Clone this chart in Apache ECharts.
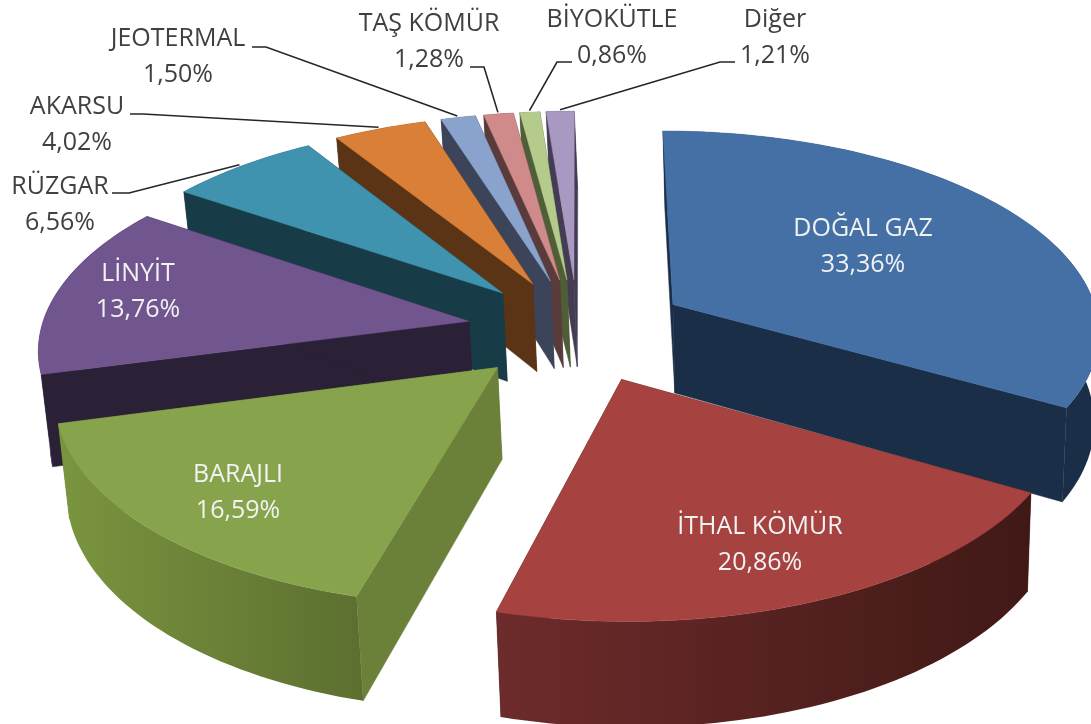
<!DOCTYPE html>
<html><head><meta charset="utf-8">
<style>html,body{margin:0;padding:0;background:#fff}#c{width:1091px;height:724px}</style>
<script src="https://cdn.jsdelivr.net/npm/echarts@6/dist/echarts.min.js"></script>
</head><body><div id="c"></div>
<script>
const categories = ['DOĞAL GAZ','İTHAL KÖMÜR','BARAJLI','LİNYİT','RÜZGAR','AKARSU','JEOTERMAL','TAŞ KÖMÜR','BİYOKÜTLE','Diğer'];
const shares = [33.36,20.86,16.59,13.76,6.56,4.02,1.50,1.28,0.86,1.21];

const topColors  = ['#4470A6','#A64240','#87A44C','#71558F','#3F93AE','#DA7F37','#8AA3CC','#CF8A89','#B5CB8C','#A898C2'];
const sideColors = ['#1B2E47','#431A17','#6B8139','#2A2137','#183C47','#5A3414','#3B4459','#5A3B3B','#4F5E37','#443C53'];
const rimLeft    = ['#1B2E47','#6D2B2B','#7A953F','#2A2137','#183C47','#5A3414','#3B4459','#5A3B3B','#4F5E37','#443C53'];
const rimRight   = ['#1B2E47','#401916','#5C6F30','#2A2137','#183C47','#5A3414','#3B4459','#5A3B3B','#4F5E37','#443C53'];
const labelAt = [[863,229],[760,527],[238,475],[138,274],[60,187],[77,107],[178,39],[429,24],[612,20],[775,20]];
const leaderFrom = [null,null,null,null,[[112,193],[129,193]],[[130,114],[143,114]],[[252,47],[266,47]],[[470,67],[484,67]],[[572,62],[557,62]],[[735,62],[720,62]]];

const view = {cx:578, cy:330, R:428, A:200, p:0.12, explode:0.26, H:90, vx:800, vk:0.015};
const DEG = Math.PI/180;

function pt(X,Z,low){
  const s = 1/(1+view.p*Z);
  let x = view.cx + view.R*X*s, y = view.cy - view.A*Z*s;
  if(low){ y += view.H*s; x += (view.vx-x)*view.vk; }
  return [x,y];
}
const total = shares.reduce((a,b)=>a+b,0);
let acc = 0;
const seriesData = shares.map((v,i)=>{ const d=[v,acc,i]; acc+=v; return d; });
const midOf = d => (d[1]+d[0]/2)/total*360;
const drawOrder = seriesData.slice().sort((a,b)=>Math.cos(midOf(b)*DEG)-Math.cos(midOf(a)*DEG));

function wedge(params, api){
  const v=api.value(0), st=api.value(1), i=api.value(2);
  const a0=st/total*360, a1=(st+v)/total*360, m=(a0+a1)/2*DEG;
  const ox=view.explode*Math.sin(m), oz=view.explode*Math.cos(m);
  const n=Math.max(4,Math.ceil((a1-a0)/1.5));
  const top=[],low=[];
  for(let k=0;k<=n;k++){
    const t=(a0+(a1-a0)*k/n)*DEG;
    const X=ox+Math.sin(t), Z=oz+Math.cos(t);
    top.push(pt(X,Z,false)); low.push(pt(X,Z,true));
  }
  const ap=pt(ox,oz,false), apL=pt(ox,oz,true);
  const c=[];
  const side=sideColors[i];
  const wall=(p)=>({type:'polygon',silent:true,shape:{points:p},style:{fill:side,stroke:side,lineWidth:0.5}});
  c.push(wall([ap,top[0],low[0],apL]));
  c.push(wall([ap,top[n],low[n],apL]));
  const grad=new echarts.graphic.LinearGradient(0,0,1,0,[{offset:0,color:rimLeft[i]},{offset:1,color:rimRight[i]}]);
  c.push({type:'polygon',silent:true,shape:{points:top.concat(low.slice().reverse())},style:{fill:grad}});
  c.push({type:'polygon',silent:true,shape:{points:[ap].concat(top)},style:{fill:topColors[i],stroke:topColors[i],lineWidth:0.5}});
  return {type:'group',children:c};
}
function labels(params, api){
  const v=api.value(0), st=api.value(1), i=api.value(2);
  const m=(st+v/2)/total*360*DEG;
  const out=leaderFrom[i]!==null;
  const font='25px "Open Sans", sans-serif';
  const color=out?'#404040':'#F2F2F2';
  const [lx,ly]=labelAt[i];
  const txt=(s,y)=>({type:'text',silent:true,style:{text:s,x:lx,y:y,fill:color,font:font,textAlign:'center',textVerticalAlign:'middle'}});
  const c=[txt(categories[i],ly),txt(v.toFixed(2).replace('.',',')+'%',ly+36)];
  if(out){
    const e=view.explode;
    const end=pt(e*Math.sin(m)+1.01*Math.sin(m),e*Math.cos(m)+1.01*Math.cos(m),false);
    c.push({type:'polyline',silent:true,shape:{points:leaderFrom[i].concat([end])},style:{stroke:'#262626',lineWidth:1.6,fill:null}});
  }
  return {type:'group',children:c};
}
const chart=echarts.init(document.getElementById('c'),null,{renderer:'canvas'});
chart.setOption({
  animation:false,
  backgroundColor:'#fff',
  series:[
    {type:'custom',coordinateSystem:'none',renderItem:wedge,data:drawOrder,z:2,silent:true},
    {type:'custom',coordinateSystem:'none',renderItem:labels,data:seriesData,z:3,silent:true}
  ]
});
</script></body></html>
